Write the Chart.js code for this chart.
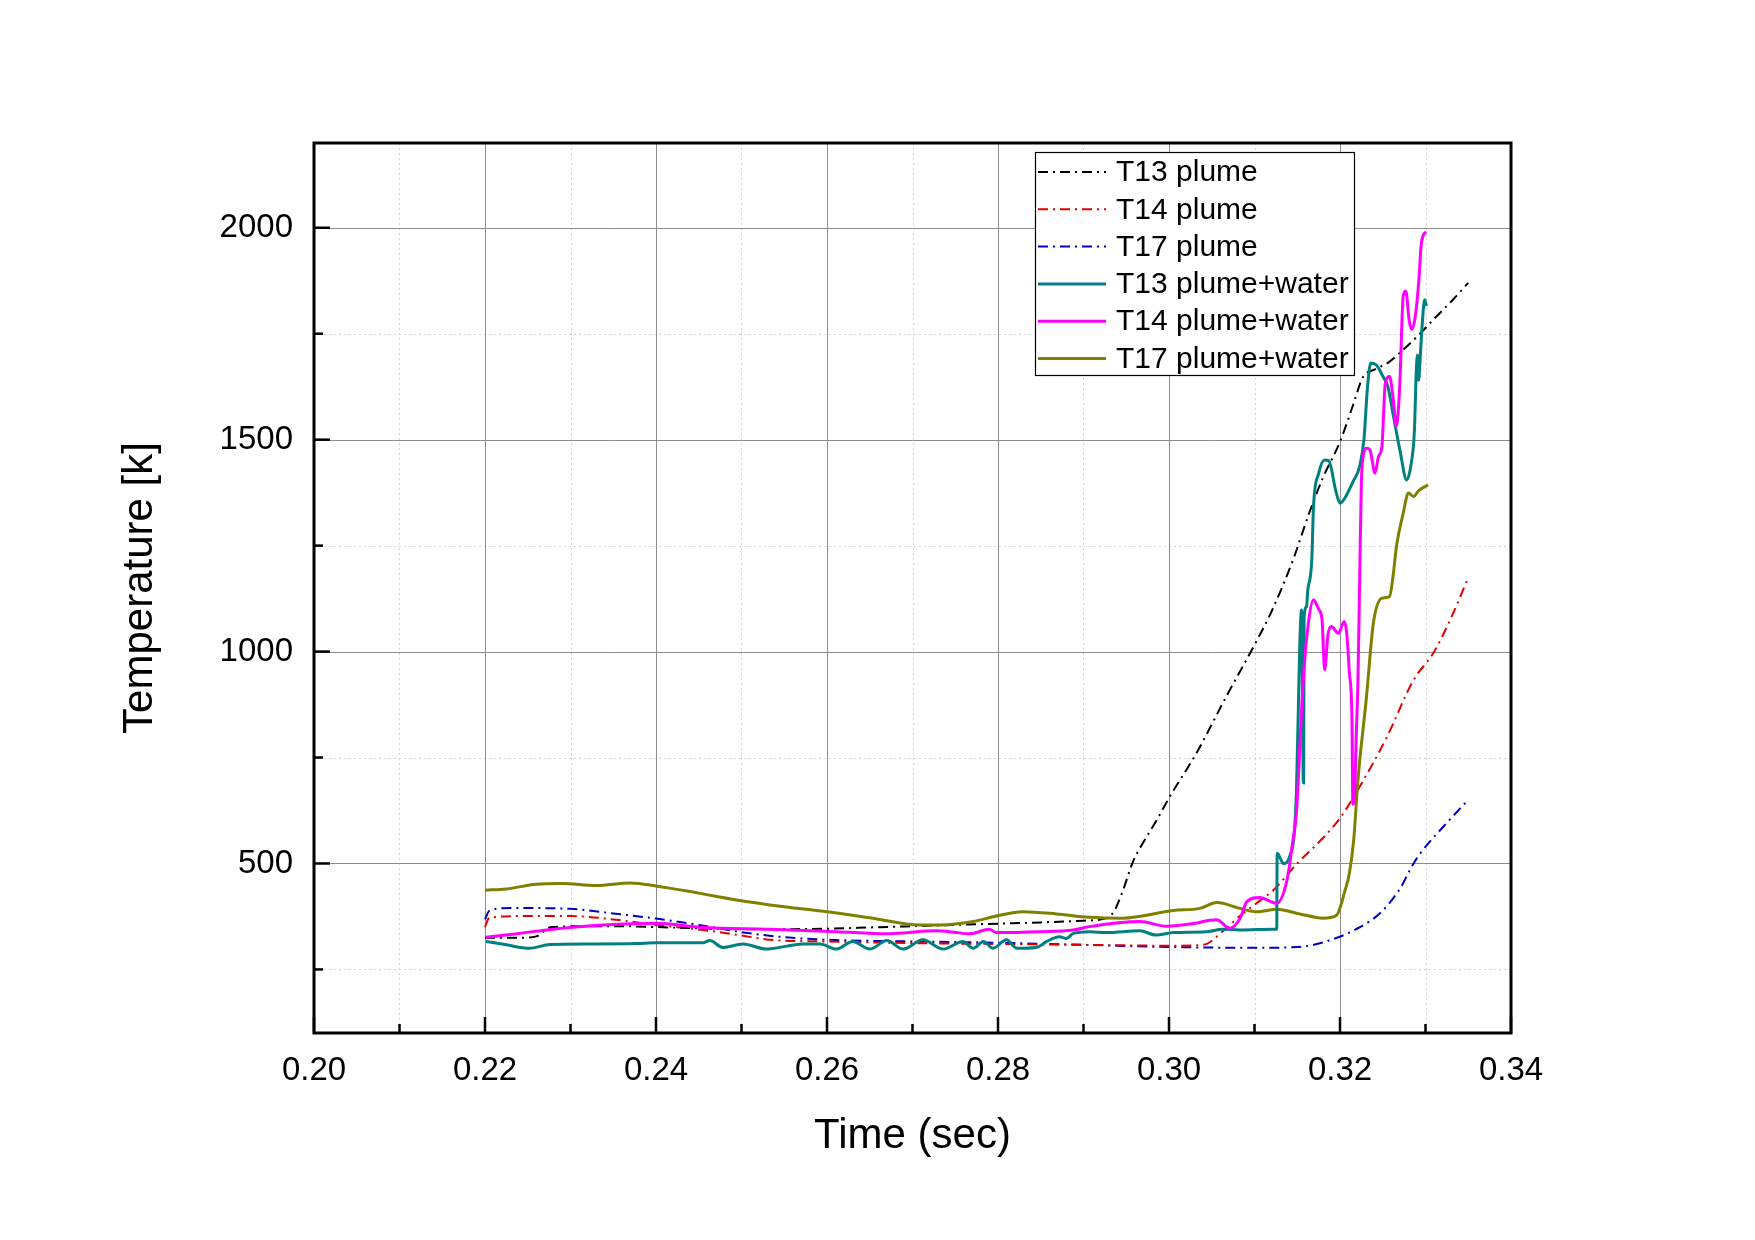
<!DOCTYPE html>
<html>
<head>
<meta charset="utf-8">
<script src="https://cdn.jsdelivr.net/npm/chart.js@4.4.1/dist/chart.umd.min.js"></script>
<style>
  html, body { margin: 0; padding: 0; background: #fff; }
  #wrap { width: 1755px; height: 1240px; }
</style>
</head>
<body>
<div id="wrap"><canvas id="chart"></canvas></div>
<script>
// axis ticks
const xTicks = [0.20, 0.22, 0.24, 0.26, 0.28, 0.30, 0.32, 0.34];
const xMinor = [0.21, 0.23, 0.25, 0.27, 0.29, 0.31, 0.33];
const yTicks = [500, 1000, 1500, 2000];
const yMinor = [250, 750, 1250, 1750];

// T13 plume
const t13PlumeTime = [0.2200, 0.2245, 0.2260, 0.2278, 0.2320, 0.2360, 0.2400, 0.2450, 0.2500, 0.2550, 0.2600, 0.2650, 0.2700, 0.2750, 0.2800, 0.2850, 0.2900, 0.2925, 0.2935, 0.2945, 0.2958, 0.2970, 0.2985, 0.3001, 0.3032, 0.3067, 0.3099, 0.3120, 0.3145, 0.3164, 0.3180, 0.3200, 0.3215, 0.3227, 0.3240, 0.3255, 0.3270, 0.3294, 0.3310, 0.3332, 0.3350];
const t13PlumeTemp = [325, 325, 328, 350, 352, 352, 350, 347, 345, 345, 346, 349, 352, 355, 358, 361, 365, 370, 385, 430, 505, 550, 600, 658, 760, 894, 1012, 1095, 1216, 1327, 1410, 1495, 1580, 1648, 1665, 1680, 1705, 1751, 1785, 1830, 1870];

// T14 plume
const t14PlumeTime = [0.2200, 0.2205, 0.2250, 0.2300, 0.2350, 0.2400, 0.2455, 0.2500, 0.2533, 0.2600, 0.2650, 0.2700, 0.2800, 0.2900, 0.3000, 0.3040, 0.3063, 0.3085, 0.3105, 0.3122, 0.3150, 0.3180, 0.3200, 0.3223, 0.3255, 0.3286, 0.3309, 0.3330, 0.3350];
const t14PlumeTemp = [350, 372, 376, 376, 368, 355, 343, 330, 320, 316, 314, 312, 310, 308, 306, 308, 340, 380, 410, 437, 500, 560, 607, 681, 799, 933, 996, 1080, 1175];

// T17 plume
const t17PlumeTime = [0.2200, 0.2205, 0.2230, 0.2300, 0.2350, 0.2400, 0.2450, 0.2500, 0.2550, 0.2600, 0.2700, 0.2800, 0.2900, 0.3000, 0.3100, 0.3140, 0.3161, 0.3190, 0.3219, 0.3247, 0.3270, 0.3286, 0.3297, 0.3320, 0.3348];
const t17PlumeTemp = [368, 388, 395, 393, 382, 370, 355, 338, 326, 320, 316, 313, 308, 303, 301, 302, 305, 320, 345, 383, 440, 500, 532, 585, 646];

// T13 plume+water
const t13WaterTime = [0.2201, 0.2225, 0.2252, 0.2276, 0.2320, 0.2377, 0.2400, 0.2455, 0.2463, 0.2478, 0.2502, 0.2529, 0.2553, 0.2572, 0.2592, 0.2611, 0.2630, 0.2650, 0.2670, 0.2689, 0.2712, 0.2736, 0.2759, 0.2771, 0.2783, 0.2794, 0.2810, 0.2822, 0.2845, 0.2857, 0.2872, 0.2880, 0.2888, 0.2907, 0.2927, 0.2966, 0.2985, 0.3005, 0.3044, 0.3063, 0.3083, 0.3122, 0.3126, 0.31265, 0.3134, 0.3141, 0.3149, 0.3153, 0.3155, 0.3157, 0.31575, 0.3158, 0.3161, 0.3162, 0.3167, 0.3169, 0.3175, 0.3182, 0.3187, 0.3195, 0.3200, 0.3205, 0.3215, 0.3223, 0.3228, 0.3232, 0.3236, 0.3243, 0.3250, 0.3256, 0.3263, 0.3270, 0.3278, 0.3283, 0.3287, 0.3289, 0.32905, 0.3292, 0.3294, 0.3296, 0.3299, 0.3301];
const t13WaterTemp = [316, 308, 300, 309, 310, 311, 313, 313, 318, 302, 310, 298, 305, 310, 310, 298, 316, 298, 318, 298, 320, 298, 316, 300, 316, 300, 320, 300, 302, 316, 327, 323, 335, 339, 337, 341, 331, 337, 339, 345, 343, 345, 345, 524, 500, 516, 666, 1020, 1098, 700, 690, 1080, 1106, 1138, 1216, 1342, 1420, 1452, 1450, 1380, 1350, 1360, 1400, 1437, 1500, 1620, 1681, 1675, 1650, 1625, 1550, 1476, 1405, 1440, 1520, 1650, 1700, 1640, 1700, 1767, 1830, 1815];

// T14 plume+water
const t14WaterTime = [0.2201, 0.2240, 0.2279, 0.2338, 0.2400, 0.2455, 0.2533, 0.2611, 0.2670, 0.2728, 0.2748, 0.2767, 0.2790, 0.2798, 0.2849, 0.2888, 0.2907, 0.2966, 0.2997, 0.3024, 0.3056, 0.3071, 0.3083, 0.3091, 0.3106, 0.3126, 0.3138, 0.3145, 0.3149, 0.3157, 0.3163, 0.3169, 0.3175, 0.3179, 0.3182, 0.3186, 0.3190, 0.3198, 0.3205, 0.3208, 0.3211, 0.3214, 0.3215, 0.3217, 0.3219, 0.3221, 0.3223, 0.3225, 0.3227, 0.3231, 0.3235, 0.3241, 0.3245, 0.3249, 0.3253, 0.3258, 0.3262, 0.3266, 0.3270, 0.3274, 0.3277, 0.3281, 0.3284, 0.3288, 0.3292, 0.3295, 0.3298, 0.3301];
const t14WaterTemp = [326, 335, 345, 355, 359, 349, 345, 339, 334, 341, 338, 334, 345, 337, 339, 343, 351, 363, 352, 357, 367, 347, 370, 410, 420, 406, 461, 555, 619, 933, 1067, 1122, 1100, 1075, 957, 1040, 1059, 1043, 1071, 1040, 949, 839, 640, 660, 800, 933, 1169, 1400, 1460, 1480, 1476, 1421, 1460, 1484, 1633, 1649, 1600, 1531, 1633, 1840, 1850, 1780, 1760, 1790, 1870, 1960, 1985, 1990];

// T17 plume+water
const t17WaterTime = [0.2200, 0.2225, 0.2260, 0.2290, 0.2330, 0.2370, 0.2400, 0.2450, 0.2494, 0.2550, 0.2600, 0.2650, 0.2709, 0.2732, 0.2771, 0.2798, 0.2829, 0.2868, 0.2907, 0.2946, 0.3005, 0.3036, 0.3056, 0.3083, 0.3103, 0.3126, 0.3153, 0.3180, 0.3196, 0.3206, 0.3211, 0.3216, 0.3221, 0.3231, 0.3239, 0.3249, 0.3258, 0.3262, 0.3266, 0.3274, 0.3280, 0.3286, 0.3292, 0.3303];
const t17WaterTemp = [437, 440, 451, 453, 448, 454, 447, 430, 414, 398, 386, 372, 355, 355, 363, 376, 386, 381, 373, 371, 389, 394, 408, 394, 386, 392, 381, 371, 378, 437, 477, 555, 697, 894, 1067, 1126, 1130, 1177, 1248, 1327, 1374, 1366, 1380, 1393];

const FONT = "'Liberation Sans', Arial, sans-serif";
const dashDot = [10, 5, 2, 5];

function pts(ts, vs) {
  return ts.map((t, i) => ({ x: t, y: vs[i] }));
}

function series(label, ts, vs, color, dashed, order) {
  return {
    label,
    data: pts(ts, vs),
    borderColor: color,
    backgroundColor: color,
    borderWidth: dashed ? 2 : 3,
    borderDash: dashed ? dashDot : [],
    pointRadius: 0,
    cubicInterpolationMode: 'monotone',
    fill: false,
    order
  };
}

const datasets = [
  series('T13 plume', t13PlumeTime, t13PlumeTemp, '#000000', true, 2),
  series('T14 plume', t14PlumeTime, t14PlumeTemp, '#e00000', true, 2),
  series('T17 plume', t17PlumeTime, t17PlumeTemp, '#0000c8', true, 2),
  series('T13 plume+water', t13WaterTime, t13WaterTemp, '#008080', false, 1),
  series('T14 plume+water', t14WaterTime, t14WaterTemp, '#ff00ff', false, 0),
  series('T17 plume+water', t17WaterTime, t17WaterTemp, '#808000', false, 1)
];

function hLine(ctx, x1, x2, y) { ctx.beginPath(); ctx.moveTo(x1, y); ctx.lineTo(x2, y); ctx.stroke(); }
function vLine(ctx, x, y1, y2) { ctx.beginPath(); ctx.moveTo(x, y1); ctx.lineTo(x, y2); ctx.stroke(); }

// grid, frame, inward ticks and the boxed legend
const framePlugin = {
  id: 'frame',
  beforeDatasetsDraw(chart) {
    const { ctx, chartArea: a, scales: { x, y } } = chart;
    ctx.save();
    ctx.lineWidth = 1;
    ctx.strokeStyle = '#d4d4d4';
    ctx.setLineDash([2, 3]);
    xMinor.forEach(v => vLine(ctx, Math.round(x.getPixelForValue(v)) + 0.5, a.top, a.bottom));
    yMinor.forEach(v => hLine(ctx, a.left, a.right, Math.round(y.getPixelForValue(v)) + 0.5));
    ctx.setLineDash([]);
    ctx.strokeStyle = '#8c8c8c';
    xTicks.slice(1, -1).forEach(v => vLine(ctx, Math.round(x.getPixelForValue(v)) + 0.5, a.top, a.bottom));
    yTicks.forEach(v => hLine(ctx, a.left, a.right, Math.round(y.getPixelForValue(v)) + 0.5));
    ctx.restore();
  },
  afterDatasetsDraw(chart) {
    const { ctx, chartArea: a, scales: { x, y } } = chart;
    ctx.save();
    // ticks pointing into the plot
    ctx.strokeStyle = '#000';
    ctx.lineWidth = 2.5;
    xTicks.forEach(v => vLine(ctx, x.getPixelForValue(v), a.bottom, a.bottom - 16));
    xMinor.forEach(v => vLine(ctx, x.getPixelForValue(v), a.bottom, a.bottom - 9));
    yTicks.forEach(v => hLine(ctx, a.left, a.left + 16, y.getPixelForValue(v)));
    yMinor.forEach(v => hLine(ctx, a.left, a.left + 9, y.getPixelForValue(v)));
    // frame
    ctx.lineWidth = 3;
    ctx.strokeRect(a.left, a.top, a.right - a.left, a.bottom - a.top);

    // legend
    const lx = a.left + 721, ly = a.top + 9, lw = 319, lh = 223;
    ctx.fillStyle = '#fff';
    ctx.fillRect(lx, ly, lw, lh);
    ctx.lineWidth = 1.2;
    ctx.strokeStyle = '#000';
    ctx.strokeRect(lx + 0.5, ly + 0.5, lw, lh);
    ctx.font = '30px ' + FONT;
    ctx.textBaseline = 'middle';
    ctx.textAlign = 'left';
    chart.data.datasets.forEach((ds, i) => {
      const cy = ly + 20 + i * 37.3;
      ctx.strokeStyle = ds.borderColor;
      ctx.lineWidth = ds.borderWidth;
      ctx.setLineDash(ds.borderDash);
      hLine(ctx, lx + 3, lx + 71, cy);
      ctx.setLineDash([]);
      ctx.fillStyle = '#000';
      ctx.fillText(ds.label, lx + 81, cy + 1);
    });
    ctx.restore();
  }
};

new Chart(document.getElementById('chart'), {
  type: 'line',
  data: { datasets },
  options: {
    responsive: true,
    maintainAspectRatio: false,
    devicePixelRatio: 1,
    animation: false,
    layout: { padding: { top: 143, right: 244, left: 0, bottom: 0 } },
    plugins: { legend: { display: false }, tooltip: { enabled: false } },
    scales: {
      x: {
        type: 'linear',
        min: 0.20,
        max: 0.34,
        afterBuildTicks: s => { s.ticks = xTicks.map(v => ({ value: v })); },
        afterFit: s => { s.height = 207; },
        grid: { display: false, drawTicks: false },
        border: { display: false },
        ticks: {
          callback: v => v.toFixed(2),
          font: { family: FONT, size: 33 },
          color: '#000',
          padding: 18,
          maxRotation: 0,
          autoSkip: false
        },
        title: {
          display: true,
          text: 'Time (sec)',
          font: { family: FONT, size: 42 },
          color: '#000',
          padding: { top: 0, bottom: 78 }
        }
      },
      y: {
        type: 'linear',
        min: 100,
        max: 2200,
        afterBuildTicks: s => { s.ticks = yTicks.map(v => ({ value: v })); },
        afterFit: s => { s.width = 314; },
        grid: { display: false, drawTicks: false },
        border: { display: false },
        ticks: {
          callback: v => String(v),
          font: { family: FONT, size: 33 },
          color: '#000',
          padding: 21,
          autoSkip: false
        },
        title: {
          display: true,
          text: 'Temperature [k]',
          font: { family: FONT, size: 42 },
          color: '#000',
          padding: { top: 115, bottom: 0 }
        }
      }
    }
  },
  plugins: [framePlugin]
});
</script>
</body>
</html>
